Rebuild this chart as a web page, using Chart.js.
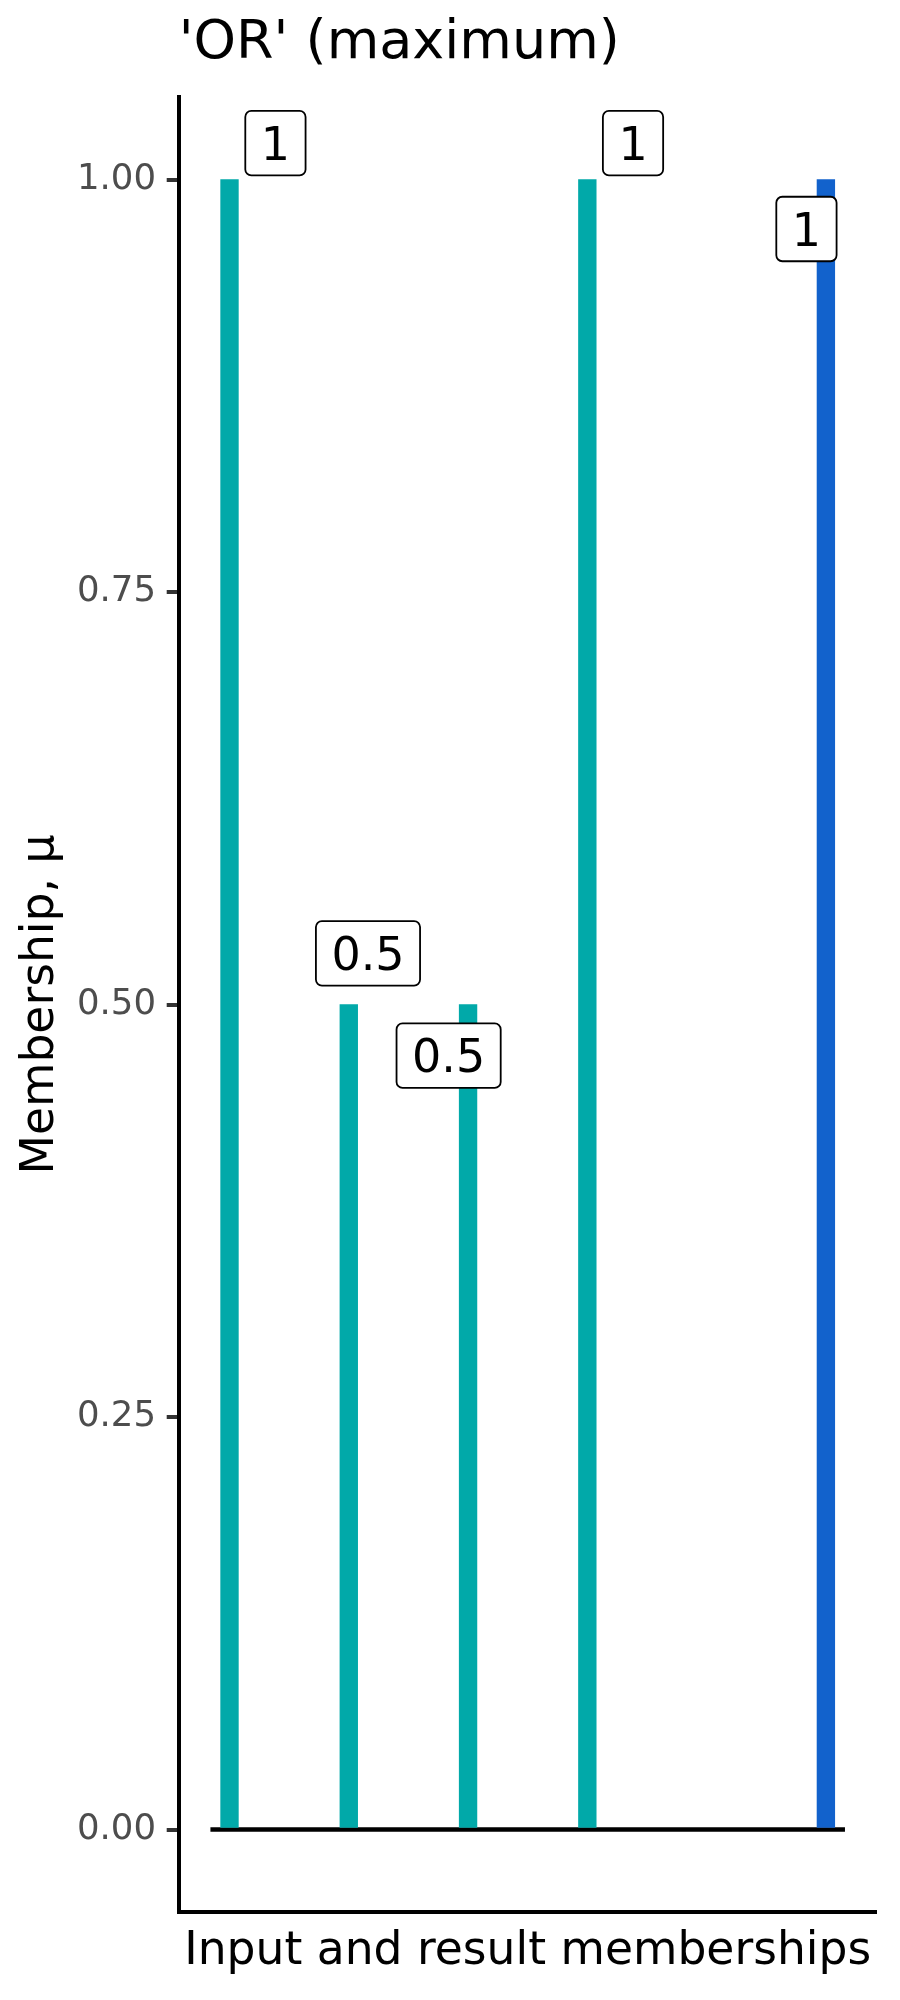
<!DOCTYPE html>
<html>
<head>
<meta charset="utf-8">
<script src="https://cdn.jsdelivr.net/npm/chart.js@4"></script>
<style>
  body { margin: 0; background: #fff; }
  #wrap { width: 900px; height: 2000px; position: relative; }
</style>
</head>
<body>
<div id="wrap"><canvas id="chart"></canvas></div>
<script>
// Data
const xPositions = [1, 2, 3, 4, 6];
const memberships = [1, 0.5, 0.5, 1, 1];
const kinds = ['input', 'input', 'input', 'input', 'result'];
// label spots after repel (data units)
const labelX = [1.385, 2.161, 2.837, 4.383, 5.837];
const labelY = [1.022, 0.531, 0.469, 1.022, 0.970];
const yTicks = [0, 0.25, 0.5, 0.75, 1];
const yTickLabels = ['0.00', '0.25', '0.50', '0.75', '1.00'];
const baseLine = [0.84, 6.16];

const FONT = "'DejaVu Sans', sans-serif";
const colorFor = { input: '#01A9A9', result: '#1262CC' };

// draw the boxed value labels
const labelBoxes = {
    id: 'labelBoxes',
    afterDatasetsDraw(chart) {
        const ctx = chart.ctx;
        const xs = chart.scales.x, ys = chart.scales.y;
        ctx.save();
        ctx.font = '46px ' + FONT;
        memberships.forEach((v, i) => {
            const txt = String(v);
            const cx = xs.getPixelForValue(labelX[i]);
            const cy = ys.getPixelForValue(labelY[i]);
            const w = ctx.measureText(txt).width + 31;
            const h = 64.5;
            ctx.beginPath();
            ctx.roundRect(cx - w / 2, cy - h / 2, w, h, 6);
            ctx.fillStyle = '#fff';
            ctx.fill();
            ctx.lineWidth = 1.8;
            ctx.strokeStyle = '#000';
            ctx.stroke();
            ctx.fillStyle = '#000';
            ctx.textAlign = 'center';
            ctx.textBaseline = 'alphabetic';
            ctx.fillText(txt, cx, cy + 16.8);
        });
        ctx.restore();
    }
};

// put the title over the plot panel's left edge
const titleLeft = {
    id: 'titleLeft',
    afterLayout(chart) {
        if (chart.titleBlock) chart.titleBlock.left = chart.chartArea.left;
    }
};

document.addEventListener('DOMContentLoaded', () => {
    const ctx = document.getElementById('chart').getContext('2d');
    new Chart(ctx, {
        type: 'bar',
        data: {
            datasets: [{
                type: 'bar',
                data: xPositions.map((x, i) => ({ x: x, y: memberships[i] })),
                backgroundColor: kinds.map(k => colorFor[k]),
                borderWidth: 0,
                barThickness: 17.7,
                order: 0
            }, {
                type: 'line',
                data: baseLine.map(x => ({ x: x, y: 0 })),
                borderColor: '#000',
                borderWidth: 4.5,
                pointRadius: 0,
                borderCapStyle: 'butt',
                order: 1
            }]
        },
        options: {
            responsive: true,
            maintainAspectRatio: false,
            animation: false,
            layout: { padding: { left: 0, right: 23.3, top: 0, bottom: 0 } },
            plugins: {
                legend: { display: false },
                tooltip: { enabled: false },
                title: {
                    display: true,
                    text: "'OR' (maximum)",
                    align: 'start',
                    color: '#000',
                    font: { family: FONT, size: 54, weight: 'normal', lineHeight: 1.2 },
                    padding: { top: 11.6, bottom: 20.6 }
                }
            },
            scales: {
                x: {
                    type: 'linear',
                    offset: false,
                    min: 0.574,
                    max: 6.426,
                    ticks: { display: false },
                    grid: { display: false, drawTicks: false, offset: false },
                    border: { display: true, color: '#000', width: 4 },
                    title: {
                        display: true,
                        text: 'Input and result memberships',
                        color: '#000',
                        font: { family: FONT, size: 45.6, lineHeight: 1.2 },
                        padding: { top: 13, bottom: 20.3 }
                    },
                    afterFit(scale) { scale.height = 88; }
                },
                y: {
                    min: -0.05,
                    max: 1.05,
                    afterBuildTicks(scale) {
                        scale.ticks = yTicks.map(v => ({ value: v }));
                    },
                    afterFit(scale) { scale.width = 178.7; },
                    ticks: {
                        color: '#4D4D4D',
                        padding: 10.7,
                        font: { family: FONT, size: 35.5 },
                        callback: (v) => yTickLabels[yTicks.indexOf(v)]
                    },
                    grid: {
                        drawOnChartArea: false,
                        drawTicks: true,
                        tickLength: 12,
                        tickWidth: 4,
                        tickColor: '#333333',
                        lineWidth: 4,
                        color: '#333333'
                    },
                    border: { display: true, color: '#000', width: 4 },
                    title: {
                        display: true,
                        text: 'Membership, μ',
                        color: '#000',
                        font: { family: FONT, size: 45.6, lineHeight: 1.2 },
                        padding: { top: 14, bottom: 0 }
                    }
                }
            }
        },
        plugins: [labelBoxes, titleLeft]
    });
});
</script>
</body>
</html>
